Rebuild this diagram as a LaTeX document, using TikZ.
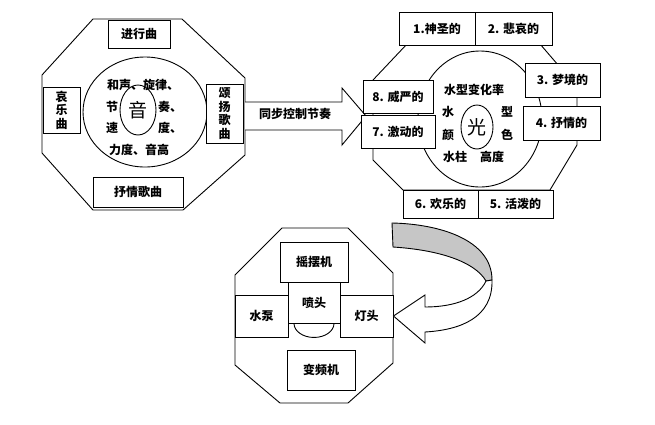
\documentclass[tikz,border=0pt]{standalone}
\usepackage{fontspec}
\setmainfont{Noto Sans CJK SC}
\usetikzlibrary{positioning, shapes.geometric}

\begin{document}
\begin{tikzpicture}[x=1pt, y=-1pt, line width=0.9pt,
    box/.style={draw=black, fill=white, inner sep=0pt, font=\fontsize{12}{13.5}\selectfont\bfseries},
    lbl/.style={inner sep=0pt, font=\fontsize{12}{13.5}\selectfont\bfseries},
    core/.style={shape=ellipse, draw=black, inner sep=0pt, font=\fontsize{19}{20}\selectfont}]
    \useasboundingbox (0,0) rectangle (655,424);

    % music
    \draw (93,19) -- (182,19) -- (245,78) -- (245,155) -- (183,210) -- (93,210) -- (42,153) -- (42,75) -- cycle;
    \node[shape=ellipse, draw=black, minimum width=124pt, minimum height=110pt] (ring) at (145,112) {};
    \node[core, minimum width=36pt, minimum height=50pt] (yin) at (138,110) {音};
    \node[lbl] (hesheng) at (143,85) {和声、旋律、};
    \node[lbl] (jie) at (112,107) {节};
    \node[lbl] (zou) at (170,107) {奏、};
    \node[lbl] (su) at (112,128) {速};
    \node[lbl] (du) at (170,128) {度、};
    \node[lbl] (lidu) at (139,150) {力度、音高};

    \node[box, minimum width=62pt, minimum height=28pt] (jinxing) at (139,34) {进行曲};
    \node[box, minimum width=37pt, minimum height=46pt, align=center] (aiyue) at (61.5,110) {哀\\乐\\曲};
    \node[box, minimum width=37pt, minimum height=59pt, align=center] (songyang) at (224.5,113.5) {颂\\扬\\歌\\曲};
    \node[box, minimum width=90pt, minimum height=30pt] (shuqing) at (138,192) {抒情歌曲};

    % sync arrow
    \coordinate (tail) at (245,116);
    \coordinate (tip) at (366,116);
    \draw[fill=white] (tail) ++(0,-14) -- ++(97,0) -- ++(0,-14) -- (tip) -- ++(-24,29) -- ++(0,-15) -- ++(-97,0);
    \node[lbl] (sync) at (295,114) {同步控制节奏};

    % light
    \draw (407,44) -- (540,44) -- (577,87) -- (577,145) -- (550,190) -- (403,190) -- (373,160) -- (373,80) -- cycle;
    \node[shape=ellipse, draw=black, minimum width=124pt, minimum height=136pt] (ring2) at (480,119) {};
    \node[core, minimum width=32pt, minimum height=44pt] (guang) at (477,127) {光};
    \node[lbl] (bianhua) at (474,90) {水型变化率};
    \node[lbl] (shui) at (448,112) {水};
    \node[lbl] (yan) at (448,135) {颜};
    \node[lbl] (xing) at (507,112) {型};
    \node[lbl] (se) at (507,135) {色};
    \node[lbl] (shuizhu) at (455,157) {水柱};
    \node[lbl] (gaodu) at (492,157) {高度};

    \node[box, minimum width=76pt, minimum height=33pt] (b1) at (437,28.5) {1.神圣的};
    \node[box, minimum width=77pt, minimum height=33pt] (b2) at (513.5,28.5) {2. 悲哀的};
    \node[box, minimum width=75pt, minimum height=34pt] (b3) at (562.5,80) {3. 梦境的};
    \node[box, minimum width=77pt, minimum height=34pt] (b4) at (561.5,123) {4. 抒情的};
    \node[box, minimum width=75pt, minimum height=28pt] (b5) at (515.5,204) {5. 活泼的};
    \node[box, minimum width=75pt, minimum height=28pt] (b6) at (440.5,204) {6. 欢乐的};
    \node[box, minimum width=74pt, minimum height=33pt] (b7) at (398,131.5) {7. 激动的};
    \node[box, minimum width=70pt, minimum height=33pt] (b8) at (398,96.5) {8. 威严的};

    % fountain
    \draw (282,228) -- (348,228) -- (393,273) -- (393,363) -- (348,403) -- (280,403) -- (235,365) -- (235,275) -- cycle;
    \node[box, minimum width=68pt, minimum height=40pt] (yaobai) at (314,262) {摇摆机};
    \node[box, minimum width=52pt, minimum height=41pt] (pentou) at (314,302.5) {喷头};
    \node[box, minimum width=53pt, minimum height=42pt] (shuibeng) at (261.5,316) {水泵};
    \node[box, minimum width=53pt, minimum height=42pt] (dengtou) at (366.5,316) {灯头};
    \node[box, minimum width=68pt, minimum height=40pt] (bianpin) at (321,370) {变频机};
    \draw (pentou.south) ++(-20pt,0pt) arc[start angle=180, end angle=360, x radius=20pt, y radius=14pt];

    % turn arrow
    \coordinate (twist) at (486,281);
    \draw[fill=gray!45] (392,223) .. controls (440,224) and (492,240) .. (492,280) -- (twist) .. controls (475,262) and (440,250) .. (393,247) -- cycle;
    \draw[fill=white] (twist) .. controls (478,298) and (455,307) .. (425,307) -- (425,295) -- (dengtou.east) -- (425,343) -- (425,332) .. controls (460,330) and (493,318) .. (492,280) -- cycle;

\end{tikzpicture}
\end{document}
